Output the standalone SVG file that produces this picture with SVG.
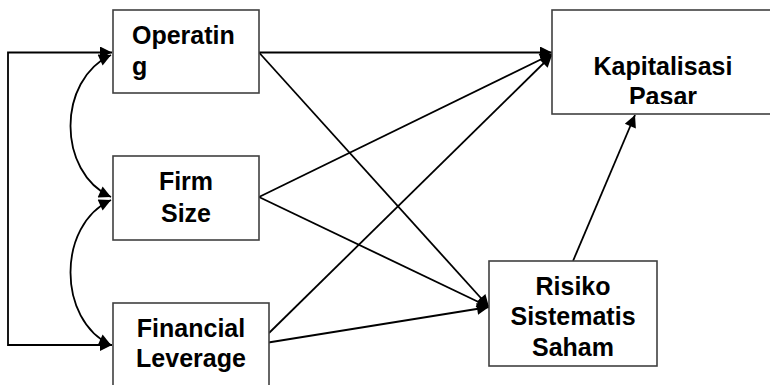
<svg xmlns="http://www.w3.org/2000/svg" width="770" height="385" viewBox="0 0 770 385">
<style>
.box{fill:#fff;stroke:#404040;stroke-width:1.6}
.lbl{font-family:"Liberation Sans",Arial,sans-serif;font-weight:bold;font-size:25px;fill:#000}
.c{text-anchor:middle}
.ln{fill:none;stroke:#000;stroke-width:1.8}
</style>
<defs>
<marker id="ah" viewBox="0 0 10 10" refX="10" refY="5" markerWidth="14" markerHeight="12" markerUnits="userSpaceOnUse" orient="auto-start-reverse">
<path d="M0,0 L10,5 L0,10 Z" fill="#000"/>
</marker>
<clipPath id="kclip"><rect x="552" y="10" width="230" height="94"/></clipPath>
<clipPath id="rclip"><rect x="489" y="261" width="170" height="97"/></clipPath>
</defs>
<rect width="770" height="385" fill="#fff"/>
<g id="connectors">
<polyline class="ln" points="112,345 8,345 8,52.5 112,52.5" marker-start="url(#ah)" marker-end="url(#ah)"/>
<path class="ln" d="M111,55 C57,80 57,172 111,197" marker-start="url(#ah)" marker-end="url(#ah)"/>
<path class="ln" d="M111,200 C57,225 57,320 111,345" marker-start="url(#ah)" marker-end="url(#ah)"/>
<line class="ln" x1="259" y1="52.5" x2="552" y2="52.5" marker-end="url(#ah)"/>
<line class="ln" x1="259" y1="52.5" x2="489" y2="307" marker-end="url(#ah)"/>
<line class="ln" x1="259" y1="197" x2="552" y2="54" marker-end="url(#ah)"/>
<line class="ln" x1="259" y1="197" x2="489" y2="307" marker-end="url(#ah)"/>
<line class="ln" x1="269" y1="333" x2="552" y2="55" marker-end="url(#ah)"/>
<line class="ln" x1="259" y1="344" x2="489" y2="307" marker-end="url(#ah)"/>
<line class="ln" x1="573" y1="261" x2="635" y2="115" marker-end="url(#ah)"/>
</g>
<g id="node-operating">
<rect class="box" x="113" y="10" width="146" height="83"/>
<text class="lbl" x="132" y="44">Operatin</text>
<text class="lbl" x="132" y="75">g</text>
</g>
<g id="node-firmsize">
<rect class="box" x="113" y="156" width="146" height="84"/>
<text class="lbl c" x="186" y="190">Firm</text>
<text class="lbl c" x="186" y="222">Size</text>
</g>
<g id="node-financial">
<rect class="box" x="113" y="303" width="156" height="100"/>
<text class="lbl c" x="191" y="337">Financial</text>
<text class="lbl c" x="191" y="367">Leverage</text>
</g>
<g id="node-kapitalisasi">
<rect class="box" x="552" y="10" width="222" height="104"/>
<g clip-path="url(#kclip)">
<text class="lbl c" x="663" y="75">Kapitalisasi</text>
<text class="lbl c" x="663" y="105">Pasar</text>
</g>
</g>
<g id="node-risiko">
<rect class="box" x="489" y="261" width="168" height="105"/>
<g clip-path="url(#rclip)">
<text class="lbl c" x="573" y="295">Risiko</text>
<text class="lbl c" x="573" y="325">Sistematis</text>
<text class="lbl c" x="573" y="356">Saham</text>
</g>
</g>
</svg>
